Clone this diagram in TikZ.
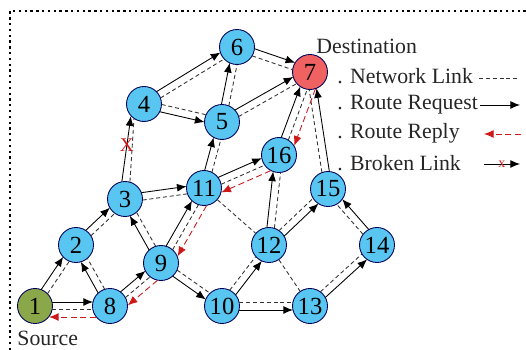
\documentclass[tikz,border=0pt]{standalone}
\usepackage{fontspec}
\setmainfont{Liberation Serif}
\usetikzlibrary{calc,arrows.meta}
\definecolor{hostblue}{RGB}{88,198,240}
\definecolor{srcgreen}{RGB}{138,168,74}
\definecolor{dstred}{RGB}{240,98,98}
\definecolor{replyred}{RGB}{205,25,25}

\begin{document}
\begin{tikzpicture}[x=0.02cm,y=-0.02cm,>={Latex[length=5.5pt,width=4.5pt]},line width=0.5pt,
  host/.style={circle,draw=black!65!blue,fill=hostblue,minimum size=0.7cm,inner sep=0pt,font=\fontsize{14}{16}\selectfont},
  trim/.style={shorten <=#1,shorten >=#1},
  netlink/.style={black!80,dash pattern=on 2.3pt off 1.6pt},
  request/.style={->,black},
  reply/.style={->,replyred,dash pattern=on 3.5pt off 2pt},
  lbl/.style={anchor=west,inner sep=0pt,text=black!85,font=\fontsize{12.4}{15}\selectfont}]
\useasboundingbox (0,0) rectangle (526,350);
\draw[dotted,line width=1.3pt] (10,350) -- (10,11) -- (526,11);

\path
(35,306)  node[host,fill=srcgreen] (n1) {1}
(76,245)  node[host] (n2) {2}
(125,199) node[host] (n3) {3}
(144,104) node[host] (n4) {4}
(222,122) node[host] (n5) {5}
(237,47)  node[host] (n6) {6}
(310,72)  node[host,fill=dstred] (n7) {7}
(110,306) node[host] (n8) {8}
(161,263) node[host] (n9) {9}
(222,306) node[host] (n10) {10}
(204,188) node[host] (n11) {11}
(269,245) node[host] (n12) {12}
(310,306) node[host] (n13) {13}
(377,245) node[host] (n14) {14}
(328,189) node[host] (n15) {15}
(279,155) node[host] (n16) {16};

\node[lbl] (dest) at (316,46) {Destination};
\node[lbl] (src) at (17,338) {Source};

% links with a route request beside them
\foreach \a/\b/\s in {1/2/1,1/8/1,2/3/1,8/2/1,8/9/1,9/3/1,9/11/1,9/10/-1,3/11/1,
  4/6/1,4/5/-1,5/6/1,11/5/1,5/7/1,6/7/1,11/16/1,16/7/1,12/16/1,10/12/-1,
  10/13/-1,12/15/-1,13/14/-1,14/15/-1,15/7/-1}{
  \pgfmathsetmacro\angA{90*\s}
  \pgfmathsetmacro\angB{-90*\s}
  \draw[request,trim=0.34cm] ($(n\a)!0.08cm!\angA:(n\b)$) -- ($(n\b)!0.08cm!\angB:(n\a)$);
  \draw[netlink,trim=0.345cm] ($(n\a)!0.07cm!\angB:(n\b)$) -- ($(n\b)!0.07cm!\angA:(n\a)$);
}
\draw[netlink] (n11) -- (n12);
\draw[netlink] (n12) -- (n13);

% broken link 3-4
\draw[request] (n3.100) -- node[pos=.55,text=replyred,font=\fontsize{11}{12}\selectfont]{X} (n4.223);
\draw[netlink] (n3.74) -- (n4.236);

% route reply back to the source
\foreach \a/\b in {7/16,16/11,11/9,9/8,8/1}
  \draw[reply,trim=0.28cm] ($(n\a)!0.22cm!90:(n\b)$) -- ($(n\b)!0.22cm!-90:(n\a)$);

% legend
\node[lbl] (kNet) at (337,76) {. Network Link};
\node[lbl] (kReq) at (337,105) {. Route Request};
\node[lbl] (kRep) at (337,133) {. Route Reply};
\node[lbl] (kBrk) at (337,163) {. Broken Link};
\coordinate (net1) at (479,78);
\coordinate (net2) at (520,78);
\coordinate (req1) at (480,105);
\coordinate (req2) at (520,105);
\coordinate (rep1) at (521,134);
\coordinate (rep2) at (484,134);
\coordinate (brk1) at (484,164);
\coordinate (brk2) at (520,164);
\draw[netlink] (net1) -- (net2);
\draw[request] (req1) -- (req2);
\draw[reply] (rep1) -- (rep2);
\draw[request] (brk1) -- node[text=replyred,font=\fontsize{8}{9}\selectfont,inner sep=0pt]{x} (brk2);
\end{tikzpicture}
\end{document}
